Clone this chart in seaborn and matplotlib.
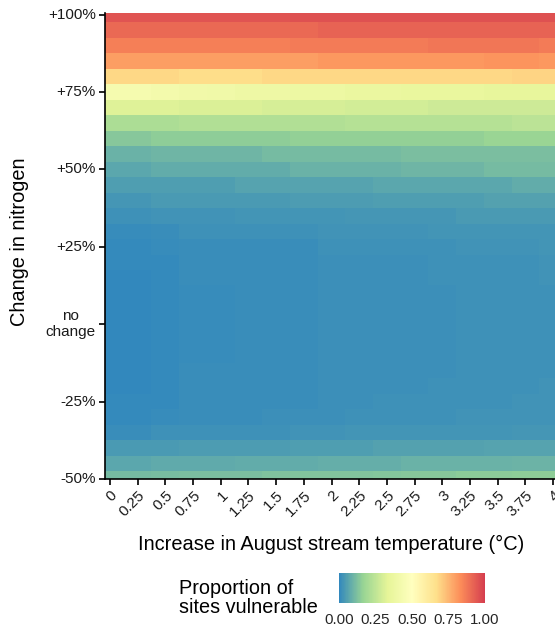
import numpy as np
import pandas as pd
import matplotlib
matplotlib.use("Agg")
import matplotlib.pyplot as plt
import seaborn as sns
from matplotlib.colors import LinearSegmentedColormap, Normalize
import matplotlib.cm as cm

# ---------------- data ----------------
temp_labels = ["0", "0.25", "0.5", "0.75", "1", "1.25", "1.5", "1.75", "2",
               "2.25", "2.5", "2.75", "3", "3.25", "3.5", "3.75", "4"]
nitrogen = [100, 95, 90, 85, 80, 75, 70, 65, 60, 55, 50, 45, 40, 35, 30, 25,
            20, 15, 10, 5, 0, -5, -10, -15, -20, -25, -30, -35, -40, -45, -50]
nitro_tick_values = [100, 75, 50, 25, 0, -25, -50]
nitro_tick_labels = ["+100%", "+75%", "+50%", "+25%", "no\nchange", "-25%", "-50%"]

values = [
    [.95, .95, .95, .95, .95, .95, .95, .96, .96, .96, .96, .96, .96, .96, .96, .96, .96],   # +100
    [.91, .91, .91, .91, .91, .91, .91, .91, .92, .92, .92, .92, .92, .92, .92, .92, .92],   # +95
    [.86, .86, .86, .86, .86, .86, .86, .87, .87, .87, .87, .87, .88, .88, .88, .88, .87],   # +90
    [.80, .80, .80, .80, .80, .80, .80, .80, .81, .81, .81, .81, .81, .81, .82, .82, .81],   # +85
    [.68, .68, .68, .67, .67, .67, .68, .68, .68, .68, .68, .68, .68, .68, .68, .69, .69],   # +80
    [.43, .43, .42, .41, .40, .39, .39, .38, .38, .37, .37, .36, .36, .36, .35, .35, .35],   # +75
    [.32, .32, .32, .31, .31, .31, .30, .30, .30, .29, .29, .29, .28, .28, .28, .28, .28],   # +70
    [.21, .21, .21, .22, .22, .22, .22, .22, .22, .23, .23, .23, .23, .23, .23, .24, .24],   # +65
    [.14, .14, .15, .15, .15, .15, .15, .16, .16, .16, .16, .16, .16, .16, .17, .17, .17],   # +60
    [.09, .09, .10, .10, .10, .10, .11, .11, .11, .11, .11, .12, .12, .12, .12, .12, .12],   # +55
    [.07, .07, .08, .08, .08, .08, .08, .09, .09, .09, .09, .10, .10, .10, .11, .11, .11],   # +50
    [.05, .05, .05, .05, .05, .06, .06, .06, .06, .06, .07, .07, .07, .07, .07, .08, .08],   # +45
    [.035, .035, .04, .04, .04, .04, .04, .045, .045, .045, .05, .05, .05, .05, .055, .055, .055],  # +40
    [.02, .02, .025, .025, .025, .03, .03, .03, .03, .035, .035, .035, .035, .04, .04, .04, .04],    # +35
    [.01, .01, .015, .02, .02, .02, .02, .02, .025, .025, .025, .025, .03, .03, .03, .03, .03],      # +30
    [.005, .005, .008, .015, .015, .015, .015, .015, .02, .02, .02, .02, .02, .025, .025, .025, .028], # +25
    [.004, .004, .005, .013, .013, .014, .015, .015, .017, .019, .019, .019, .02, .021, .022, .023, .025],  # +20
    [.003, .003, .004, .012, .012, .013, .014, .014, .016, .018, .018, .019, .02, .02, .021, .022, .024],   # +15
    [.003, .003, .004, .011, .011, .012, .014, .014, .016, .018, .018, .018, .019, .02, .02, .021, .023],   # +10
    [.002, .002, .004, .011, .011, .012, .013, .015, .016, .018, .018, .018, .019, .02, .02, .021, .022],   # +5
    [.002, .002, .004, .011, .011, .012, .013, .015, .016, .018, .018, .018, .019, .02, .02, .021, .022],   # 0
    [.002, .002, .004, .011, .011, .012, .013, .015, .016, .018, .018, .018, .019, .02, .02, .021, .022],   # -5
    [.002, .002, .004, .011, .011, .012, .013, .014, .016, .018, .018, .018, .019, .02, .02, .021, .022],   # -10
    [.003, .003, .004, .012, .012, .012, .013, .014, .016, .018, .018, .018, .019, .02, .021, .022, .023],  # -15
    [.003, .003, .005, .012, .012, .013, .014, .014, .017, .018, .019, .019, .02, .021, .022, .023, .024],  # -20
    [.004, .004, .006, .013, .013, .014, .015, .015, .018, .019, .02, .02, .021, .022, .023, .024, .025],   # -25
    [.006, .006, .008, .014, .014, .015, .016, .016, .019, .021, .021, .022, .023, .024, .025, .026, .027], # -30
    [.015, .015, .02, .02, .02, .02, .02, .025, .025, .03, .03, .03, .03, .03, .03, .035, .035],     # -35
    [.04, .04, .04, .045, .045, .045, .045, .05, .05, .05, .055, .055, .055, .055, .06, .06, .06],   # -40
    [.07, .07, .075, .075, .075, .08, .08, .08, .085, .085, .085, .09, .09, .09, .09, .095, .095],   # -45
    [.11, .11, .115, .12, .12, .12, .125, .13, .13, .13, .135, .14, .14, .145, .145, .15, .15],      # -50
]

legend_title = "Proportion of\nsites vulnerable"
cbar_ticks = [0.0, 0.25, 0.5, 0.75, 1.0]
cbar_ticklabels = ["0.00", "0.25", "0.50", "0.75", "1.00"]
spectral7 = ["#3288BD", "#99D594", "#E6F598", "#FFFFBF", "#FEE08B", "#FC8D59", "#D53E4F"]

# ---------------- plot ----------------
sns.set_style("white")
plt.rcParams["font.family"] = ["Liberation Sans", "DejaVu Sans"]

cmap = LinearSegmentedColormap.from_list("spectral_r7", spectral7)
df = pd.DataFrame(values, index=nitrogen, columns=temp_labels)

fig = plt.figure(figsize=(5.55, 6.26), dpi=100)
ax = fig.add_axes([0.1886, 0.2348, 0.833, 0.7439])
sns.heatmap(df, cmap=cmap, vmin=0, vmax=1, cbar=False, ax=ax)

ax.set_xticks([i + 0.5 for i in range(len(temp_labels))])
ax.set_xticklabels(temp_labels, rotation=45, ha="right", va="top",
                   rotation_mode="anchor", fontsize=11, color="#1a1a1a")
ax.set_yticks([nitrogen.index(v) + 0.5 for v in nitro_tick_values])
ax.set_yticklabels(nitro_tick_labels, rotation=0, fontsize=11, color="#1a1a1a",
                   multialignment="center")
ax.set_xlim(0.31, 17.0)
ax.set_ylim(30.5, 0.42)

for side in ["left", "bottom"]:
    ax.spines[side].set_visible(True)
    ax.spines[side].set_color("black")
    ax.spines[side].set_linewidth(1.2)
for side in ["top", "right"]:
    ax.spines[side].set_visible(False)

ax.tick_params(axis="both", which="major", length=4.5, width=1.2, color="black",
               pad=2, left=True, bottom=True)

ax.set_xlabel("Increase in August stream temperature (°C)", fontsize=14.4, color="black")
ax.xaxis.set_label_coords(0.49, -0.12)
ax.set_ylabel("Change in nitrogen", fontsize=14.4, color="black", va="center")
ax.yaxis.set_label_coords(-0.185, 0.51)

# colorbar legend
cax = fig.add_axes([339 / 555, (626 - 603) / 626, 146 / 555, 30 / 626])
sm = cm.ScalarMappable(norm=Normalize(vmin=0, vmax=1), cmap=cmap)
cb = fig.colorbar(sm, cax=cax, orientation="horizontal", ticks=cbar_ticks)
cb.set_ticklabels(cbar_ticklabels)
cb.outline.set_visible(False)
cax.tick_params(axis="x", which="major", direction="in", color="white", length=6,
                width=1, top=True, bottom=True, labeltop=False, labelbottom=True,
                labelsize=10.9, pad=7)
cax.tick_params(axis="x", which="minor", length=0)

fig.text(179 / 555, (626 - 598) / 626, legend_title, ha="left", va="center",
         fontsize=14.3, linespacing=1.0, color="black")

fig.savefig("out.png", dpi=100)
